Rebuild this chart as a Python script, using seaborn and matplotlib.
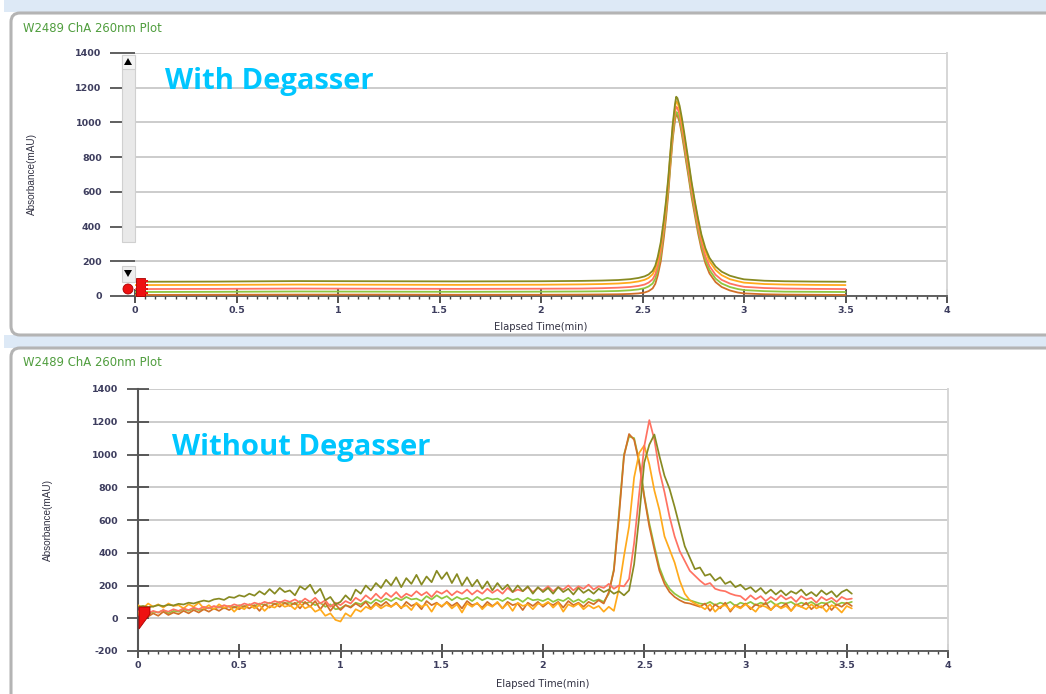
import numpy as np
import pandas as pd
import matplotlib
matplotlib.use("Agg")
import matplotlib.pyplot as plt
import seaborn as sns
from matplotlib.patches import FancyBboxPatch, Rectangle, Polygon, Circle
from matplotlib.transforms import IdentityTransform
from matplotlib.ticker import MultipleLocator

# ---------------- data ----------------
SERIES = ["olive", "orange", "salmon", "lightgreen", "brown"]
COLORS = {"olive": "#878a22", "orange": "#ffaa1c", "salmon": "#ff7262",
          "lightgreen": "#8fc63f", "brown": "#d27028"}

# Top panel (with degasser) – smooth peaks
T_TOP = [0.0, 0.4, 0.8, 1.2, 1.6, 2.0, 2.2, 2.3, 2.38, 2.44,
         2.48, 2.51, 2.53, 2.55, 2.563, 2.575, 2.59, 2.605, 2.616, 2.627,
         2.638, 2.649, 2.66, 2.666, 2.672, 2.683, 2.694, 2.705, 2.716, 2.727,
         2.742, 2.758, 2.774, 2.79, 2.81, 2.83, 2.86, 2.89, 2.93, 2.97,
         3.0, 3.1, 3.2, 3.35, 3.5]
TOP_OLIVE = [82, 83, 86, 85, 84, 85, 87, 89, 92, 97,
             104, 113, 124, 145, 175, 225, 310, 440, 550, 680,
             840, 990, 1105, 1148, 1140, 1095, 1025, 945, 860, 775,
             655, 545, 445, 355, 275, 220, 170, 140, 117, 104,
             96, 88, 85, 83, 82]
TOP_ORANGE = [63, 64, 66, 65, 64, 65, 67, 69, 72, 77,
              84, 93, 104, 125, 155, 205, 290, 420, 530, 665,
              825, 975, 1085, 1122, 1115, 1072, 1003, 925, 842, 760,
              642, 535, 432, 342, 258, 200, 150, 120, 97, 85,
              77, 69, 66, 64, 63]
TOP_SALMON = [40, 41, 43, 42, 41, 42, 43, 45, 48, 52,
              58, 66, 77, 96, 125, 175, 260, 395, 505, 640,
              800, 948, 1058, 1090, 1084, 1043, 975, 896, 812, 730,
              612, 507, 403, 313, 228, 172, 122, 93, 72, 60,
              53, 46, 43, 41, 40]
TOP_LGREEN = [23, 24, 26, 25, 24, 25, 26, 27, 29, 33,
              38, 45, 55, 72, 100, 150, 235, 370, 480, 615,
              775, 922, 1030, 1060, 1055, 1016, 950, 870, 786, 705,
              588, 484, 380, 292, 208, 150, 100, 72, 52, 40,
              34, 28, 25, 24, 23]
TOP_BROWN = [6, 7, 8, 8, 7, 7, 8, 9, 10, 12,
             15, 20, 28, 44, 70, 118, 200, 335, 450, 590,
             755, 905, 1013, 1045, 1040, 1000, 930, 850, 766, 685,
             568, 464, 360, 272, 188, 130, 80, 52, 32, 20,
             15, 10, 8, 7, 6]

# Bottom panel (without degasser) – noisy traces
T_BOT = [0.000, 0.025, 0.050, 0.075, 0.100, 0.125, 0.150, 0.175, 0.200, 0.225,
         0.250, 0.275, 0.300, 0.325, 0.350, 0.375, 0.400, 0.425, 0.450, 0.475,
         0.500, 0.525, 0.550, 0.575, 0.600, 0.625, 0.650, 0.675, 0.700, 0.725,
         0.750, 0.775, 0.800, 0.825, 0.850, 0.875, 0.900, 0.925, 0.950, 0.975,
         1.000, 1.025, 1.050, 1.075, 1.100, 1.125, 1.150, 1.175, 1.200, 1.225,
         1.250, 1.275, 1.300, 1.325, 1.350, 1.375, 1.400, 1.425, 1.450, 1.475,
         1.500, 1.525, 1.550, 1.575, 1.600, 1.625, 1.650, 1.675, 1.700, 1.725,
         1.750, 1.775, 1.800, 1.825, 1.850, 1.875, 1.900, 1.925, 1.950, 1.975,
         2.000, 2.025, 2.050, 2.075, 2.100, 2.125, 2.150, 2.175, 2.200, 2.225,
         2.250, 2.275, 2.300, 2.325, 2.350, 2.375, 2.400, 2.425, 2.450, 2.475,
         2.500, 2.525, 2.550, 2.575, 2.600, 2.625, 2.650, 2.675, 2.700, 2.725,
         2.750, 2.775, 2.800, 2.825, 2.850, 2.875, 2.900, 2.925, 2.950, 2.975,
         3.000, 3.025, 3.050, 3.075, 3.100, 3.125, 3.150, 3.175, 3.200, 3.225,
         3.250, 3.275, 3.300, 3.325, 3.350, 3.375, 3.400, 3.425, 3.450, 3.475,
         3.500, 3.525]
BOT_OLIVE = [70, 75, 68, 72, 80, 74, 82, 78, 88, 84,
             95, 90, 100, 108, 102, 115, 120, 112, 130, 125,
             140, 132, 150, 138, 165, 145, 178, 150, 185, 160,
             170, 140, 195, 175, 205, 150, 180, 110, 130, 85,
             100, 140, 110, 175, 150, 200, 170, 215, 185, 235,
             200, 250, 190, 245, 210, 265, 205, 255, 220, 290,
             240, 280, 215, 270, 200, 250, 195, 235, 180, 225,
             170, 215, 175, 205, 160, 200, 165, 195, 150, 190,
             160, 185, 150, 190, 160, 180, 145, 185, 155, 175,
             150, 180, 160, 175, 150, 165, 140, 170, 330, 620,
             950, 1060, 1122, 990, 870, 790, 680, 560, 440, 370,
             300, 310, 260, 270, 230, 250, 210, 225, 190, 205,
             175, 190, 160, 185, 150, 175, 145, 170, 140, 165,
             150, 175, 140, 160, 135, 170, 145, 165, 130, 160,
             175, 150]
BOT_SALMON = [40, 55, 30, 45, 35, 50, 40, 55, 45, 60,
              50, 65, 55, 70, 60, 75, 65, 80, 70, 85,
              75, 90, 80, 95, 85, 100, 90, 105, 95, 110,
              100, 115, 95, 120, 100, 125, 90, 110, 70, 95,
              80, 105, 90, 125, 105, 140, 115, 150, 120, 155,
              130, 160, 125, 150, 135, 165, 140, 160, 130, 165,
              150, 170, 140, 165, 150, 175, 145, 170, 150, 180,
              155, 175, 150, 185, 160, 175, 165, 190, 160, 185,
              170, 195, 165, 190, 175, 200, 170, 195, 180, 205,
              175, 195, 185, 210, 180, 200, 195, 240, 460, 760,
              1050, 1210, 1090, 900, 770, 620, 500, 410, 350, 290,
              260, 230, 205, 215, 180, 170, 165, 150, 140, 135,
              110, 140, 115, 135, 105, 130, 110, 140, 115, 130,
              100, 135, 115, 125, 95, 130, 110, 125, 100, 130,
              115, 120]
BOT_LGREEN = [30, 45, 25, 40, 35, 50, 30, 45, 40, 55,
              45, 60, 50, 55, 65, 55, 70, 60, 75, 65,
              80, 70, 85, 75, 90, 80, 95, 85, 100, 90,
              95, 85, 105, 90, 100, 80, 95, 70, 85, 55,
              60, 80, 70, 95, 85, 105, 90, 115, 100, 120,
              105, 125, 110, 130, 115, 120, 105, 135, 115, 140,
              120, 135, 110, 130, 115, 125, 105, 130, 110, 125,
              115, 120, 105, 125, 110, 120, 100, 125, 110, 115,
              105, 120, 100, 115, 105, 125, 100, 115, 95, 120,
              105, 115, 100, 150, 300, 640, 1000, 1110, 1100, 960,
              750, 580, 440, 310, 230, 180, 150, 130, 115, 110,
              100, 90, 85, 100, 80, 95, 85, 100, 75, 95,
              85, 100, 80, 95, 85, 105, 80, 95, 90, 100,
              80, 95, 85, 100, 80, 95, 90, 105, 80, 95,
              90, 100]
BOT_BROWN = [20, 35, 10, 30, 15, 40, 20, 35, 25, 45,
             30, 50, 35, 55, 40, 60, 45, 65, 50, 70,
             55, 75, 60, 80, 45, 85, 65, 90, 70, 95,
             75, 95, 60, 100, 70, 105, 55, 95, 45, 85,
             50, 80, 65, 90, 70, 100, 60, 95, 75, 100,
             70, 95, 60, 100, 75, 90, 55, 105, 80, 95,
             70, 100, 75, 95, 60, 105, 80, 90, 65, 100,
             75, 95, 60, 100, 80, 90, 50, 95, 75, 100,
             70, 95, 80, 100, 65, 105, 80, 95, 70, 100,
             85, 110, 90, 160, 290, 620, 990, 1125, 1090, 950,
             740, 560, 420, 290, 210, 160, 130, 110, 95, 90,
             80, 70, 90, 45, 85, 60, 95, 40, 80, 65,
             90, 55, 85, 70, 95, 50, 80, 65, 90, 45,
             85, 70, 95, 55, 80, 65, 90, 50, 85, 70,
             95, 75]
BOT_ORANGE = [80, 60, 90, 70, 85, 65, 90, 75, 80, 60,
              85, 70, 95, 60, 80, 55, 85, 65, 75, 40,
              70, 55, 85, 60, 80, 45, 75, 65, 90, 70,
              80, 55, 90, 60, 75, 40, 55, 15, 30, -10,
              -20, 30, 10, 55, 40, 70, 55, 85, 60, 80,
              70, 90, 65, 80, 50, 95, 70, 85, 40, 90,
              75, 95, 60, 85, 35, 90, 70, 95, 55, 85,
              70, 100, 60, 90, 45, 95, 75, 85, 55, 90,
              80, 100, 65, 95, 40, 85, 70, 90, 55, 80,
              60, 75, 40, 70, 45, 180, 380, 560, 860, 1010,
              1055, 940, 780, 660, 500, 420, 340, 230, 150, 110,
              90, 75, 55, 85, 40, 70, 80, 50, 75, 60,
              85, 65, 40, 80, 70, 50, 85, 60, 75, 45,
              80, 70, 55, 85, 60, 75, 40, 80, 65, 35,
              75, 60]

Y_TICKS_TOP = [0, 200, 400, 600, 800, 1000, 1200, 1400]
Y_TICKS_BOT = [-200, 0, 200, 400, 600, 800, 1000, 1200, 1400]
X_TICKS = [0, 0.5, 1, 1.5, 2, 2.5, 3, 3.5, 4]
X_TICKLABELS = ["0", "0.5", "1", "1.5", "2", "2.5", "3", "3.5", "4"]
PLOT_TITLE = "W2489 ChA 260nm Plot"
X_LABEL = "Elapsed Time(min)"
Y_LABEL = "Absorbance(mAU)"

top_df = pd.concat([
    pd.DataFrame({"t": T_TOP, "v": TOP_BROWN, "s": "brown"}),
    pd.DataFrame({"t": T_TOP, "v": TOP_LGREEN, "s": "lightgreen"}),
    pd.DataFrame({"t": T_TOP, "v": TOP_SALMON, "s": "salmon"}),
    pd.DataFrame({"t": T_TOP, "v": TOP_ORANGE, "s": "orange"}),
    pd.DataFrame({"t": T_TOP, "v": TOP_OLIVE, "s": "olive"}),
], ignore_index=True)
bot_df = pd.concat([
    pd.DataFrame({"t": T_BOT, "v": BOT_LGREEN, "s": "lightgreen"}),
    pd.DataFrame({"t": T_BOT, "v": BOT_BROWN, "s": "brown"}),
    pd.DataFrame({"t": T_BOT, "v": BOT_ORANGE, "s": "orange"}),
    pd.DataFrame({"t": T_BOT, "v": BOT_SALMON, "s": "salmon"}),
    pd.DataFrame({"t": T_BOT, "v": BOT_OLIVE, "s": "olive"}),
], ignore_index=True)

# ---------------- style ----------------
sns.set_style("white")
plt.rcParams["font.family"] = ["DejaVu Sans"]

W, H = 1046, 694
fig = plt.figure(figsize=(W / 100, H / 100), dpi=100)
fig.patch.set_facecolor("white")
ID = IdentityTransform()


def px(x, y):
    return (x, H - y)


def fx(x):
    return x / W


def fy(y):
    return 1 - y / H


# background bands & panel frames
fig.add_artist(Rectangle(px(4, 12), W, 12, transform=ID, facecolor="#dde9f6",
                         edgecolor="none", zorder=-5))
fig.add_artist(Rectangle(px(4, 348), W, 13, transform=ID, facecolor="#dde9f6",
                         edgecolor="none", zorder=-5))
for (y0, y1) in [(13, 335), (348, 710)]:
    fig.add_artist(FancyBboxPatch(px(11, y1), W + 20, y1 - y0,
                                  boxstyle="round,pad=0,rounding_size=9",
                                  transform=ID, facecolor="white",
                                  edgecolor="#b4b4b4", lw=2.2, zorder=-4))

# axes positions (pixels)
ax_top = fig.add_axes([fx(135), fy(296), (947 - 135) / W, (296 - 53) / H])
ax_bot = fig.add_axes([fx(138), fy(651), (948 - 138) / W, (651 - 389) / H])

tick_font = dict(family="DejaVu Sans", weight="bold", size=6.8, color="#3d3d5e")

for ax, df, lw, lp in [(ax_top, top_df, 1.3, 5), (ax_bot, bot_df, 1.25, 7)]:
    ax.set_facecolor("none")
    sns.lineplot(data=df, x="t", y="v", hue="s", palette=COLORS,
                 estimator=None, sort=False, legend=False, lw=lw, ax=ax,
                 zorder=3)
    ax.set_xlim(0, 4)
    ax.set_xticks(X_TICKS)
    ax.set_xticklabels(X_TICKLABELS, **tick_font)
    ax.xaxis.set_minor_locator(MultipleLocator(0.05))
    ax.tick_params(axis="x", which="major", direction="inout", length=10,
                   width=1.3, color="#444444", pad=2.0, bottom=True)
    ax.tick_params(axis="x", which="minor", direction="out", length=2.5,
                   width=1.0, color="#444444", bottom=True)
    ax.yaxis.grid(True, color="#cccccc", lw=1.4, zorder=0)
    ax.xaxis.grid(False)
    ax.set_axisbelow(True)
    ax.spines["top"].set_visible(False)
    ax.spines["right"].set_color("#d6d6d6")
    ax.spines["right"].set_linewidth(1.4)
    ax.spines["bottom"].set_color("#555555")
    ax.spines["bottom"].set_linewidth(1.3)
    ax.set_xlabel(X_LABEL, family="DejaVu Sans", size=7.2, color="#333344",
                  labelpad=lp)
    ax.set_ylabel(Y_LABEL, family="Liberation Sans", size=7.2, color="#333344")

# top panel y
ax_top.set_ylim(0, 1400)
ax_top.set_yticks(Y_TICKS_TOP)
ax_top.set_yticklabels([str(v) for v in Y_TICKS_TOP], **tick_font)
ax_top.spines["left"].set_visible(False)
ax_top.tick_params(axis="y", direction="out", length=18, width=1.2,
                   color="#444444", pad=6, left=True)
ax_top.yaxis.set_label_coords((37 - 135) / 812, 0.5)

# bottom panel y
ax_bot.set_ylim(-200, 1400)
ax_bot.set_yticks(Y_TICKS_BOT)
ax_bot.set_yticklabels([str(v) for v in Y_TICKS_BOT], **tick_font)
ax_bot.spines["left"].set_color("#555555")
ax_bot.spines["left"].set_linewidth(1.5)
ax_bot.tick_params(axis="y", direction="inout", length=16, width=1.2,
                   color="#444444", pad=6.5, left=True)
ax_bot.yaxis.set_label_coords((53 - 138) / 810, 0.5)

# panel titles
for y in [28, 362]:
    fig.text(fx(23), fy(y), PLOT_TITLE, color="#4f9d3d", size=8.4,
             va="center", ha="left")

# big annotations
fig.text(fx(165), fy(89), "With Degasser", color="#00c6ff", size=21,
         family="Open Sans", weight="bold", va="baseline", ha="left")
fig.text(fx(172), fy(455), "Without Degasser", color="#00c6ff", size=21,
         family="Open Sans", weight="bold", va="baseline", ha="left")

# scrollbar widget (top panel)
fig.add_artist(Rectangle(px(122, 242), 13, 187, transform=ID,
                         facecolor="#e9e9e9", edgecolor="#d0d0d0", lw=0.8,
                         zorder=5))
fig.add_artist(Rectangle(px(122, 69), 13, 14, transform=ID,
                         facecolor="#f4f4f4", edgecolor="#d0d0d0", lw=0.8,
                         zorder=6))
fig.add_artist(Polygon([px(124, 65), px(132, 65), px(128, 58)], transform=ID,
                       facecolor="black", edgecolor="none", zorder=7))
fig.add_artist(Rectangle(px(122, 282), 13, 16, transform=ID,
                         facecolor="#eeeeee", edgecolor="#d0d0d0", lw=0.8,
                         zorder=6))
fig.add_artist(Polygon([px(124, 270), px(132, 270), px(128, 277)], transform=ID,
                       facecolor="black", edgecolor="none", zorder=7))
fig.add_artist(Circle(px(128, 289), 5, transform=ID, facecolor="#ee1111",
                      edgecolor="#aa0000", lw=0.6, zorder=7))
fig.add_artist(Rectangle(px(136, 296), 9, 18, transform=ID,
                         facecolor="#ee1111", edgecolor="#aa0000", lw=0.6,
                         zorder=7))
for yy in [281, 285, 289, 293]:
    fig.add_artist(Rectangle(px(145, yy + 1), 3, 2, transform=ID,
                             facecolor="#ee1111", edgecolor="none", zorder=7))

# red marker at origin (bottom panel)
fig.add_artist(Polygon([px(139, 607), px(150, 607), px(150, 614), px(139, 629)],
                       transform=ID, facecolor="#ee1111", edgecolor="#aa0000",
                       lw=0.6, zorder=7))

fig.savefig("out.png", dpi=100)
